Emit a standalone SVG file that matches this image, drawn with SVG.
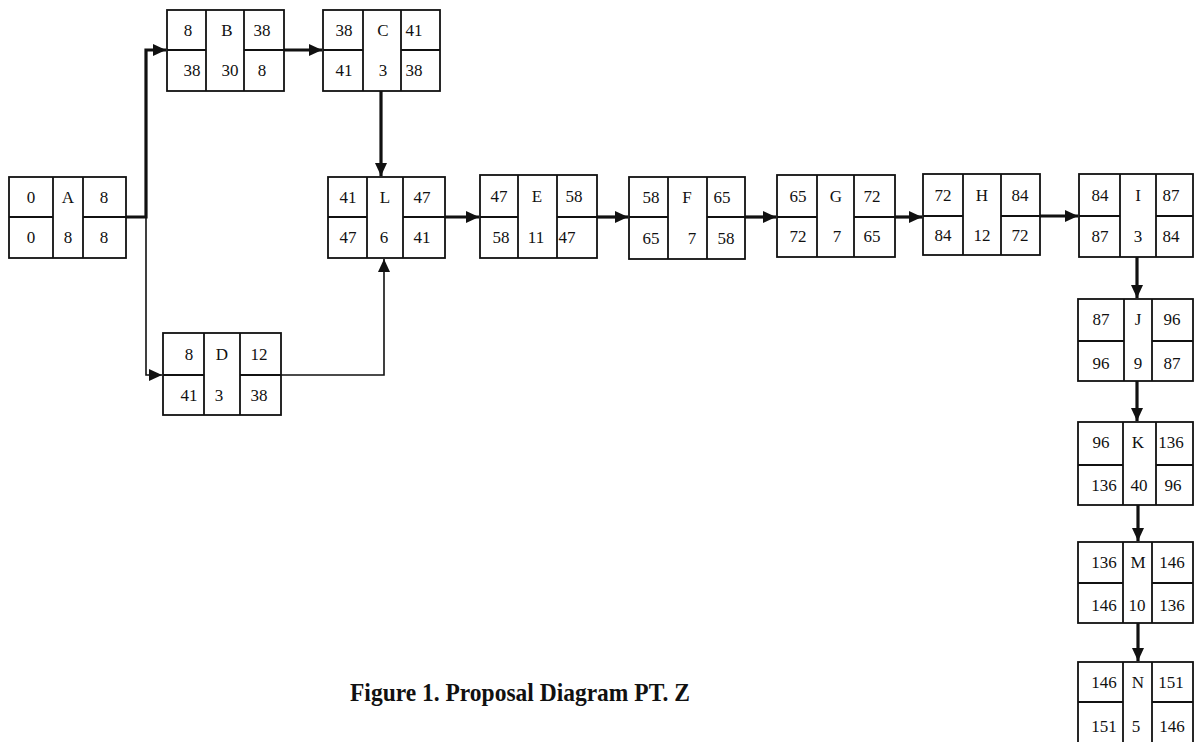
<svg xmlns="http://www.w3.org/2000/svg" width="1194" height="742" viewBox="0 0 1194 742">
<style>
.box{fill:#fff;stroke:#111;stroke-width:1.8}
.ln{stroke:#111;stroke-width:1.8;fill:none}
.t{font-family:"Liberation Serif","Times New Roman",serif;font-size:17px;fill:#111;text-anchor:middle}
.thick{stroke:#111;stroke-width:3.2;fill:none}
.thin{stroke:#111;stroke-width:1.6;fill:none}
.title{font-family:"Liberation Serif","Times New Roman",serif;font-size:25px;font-weight:bold;fill:#111;text-anchor:middle}
</style>
<defs>
<marker id="ah" markerUnits="userSpaceOnUse" markerWidth="14" markerHeight="12" refX="13" refY="6" orient="auto">
<path d="M0,0 L13,6 L0,12 Z" fill="#111"/>
</marker>
</defs>
<rect width="1194" height="742" fill="#fff"/>

<g id="connectors">
<path class="thick" d="M126,217 H146 V50 H166" marker-end="url(#ah)"/>
<path class="thin" d="M146,217 V375 H162" marker-end="url(#ah)"/>
<path class="thick" d="M284,50 H322" marker-end="url(#ah)"/>
<path class="thick" d="M381,91 V176" marker-end="url(#ah)"/>
<path class="thin" d="M281,375 H384 V259" marker-end="url(#ah)"/>
<path class="thick" d="M445,217 H479" marker-end="url(#ah)"/>
<path class="thick" d="M597,217 H628" marker-end="url(#ah)"/>
<path class="thick" d="M745,217 H776" marker-end="url(#ah)"/>
<path class="thick" d="M895,217 H922" marker-end="url(#ah)"/>
<path class="thick" d="M1040,216 H1078" marker-end="url(#ah)"/>
<path class="thick" d="M1137,257 V298" marker-end="url(#ah)"/>
<path class="thick" d="M1137,381 V421" marker-end="url(#ah)"/>
<path class="thick" d="M1138,505 V541" marker-end="url(#ah)"/>
<path class="thick" d="M1138,623 V661" marker-end="url(#ah)"/>
</g>

<g id="node-A">
<rect class="box" x="9" y="177" width="117" height="81"/>
<path class="ln" d="M53,177 V258 M83,177 V258 M9,217 H53 M83,217 H126"/>
<text class="t" x="31" y="203">0</text><text class="t" x="68" y="203">A</text><text class="t" x="104" y="203">8</text>
<text class="t" x="31" y="243">0</text><text class="t" x="68" y="243">8</text><text class="t" x="104" y="243">8</text>
</g>

<g id="node-B">
<rect class="box" x="167" y="10" width="117" height="81"/>
<path class="ln" d="M206,10 V91 M244,10 V91 M167,50 H206 M244,50 H284"/>
<text class="t" x="188" y="36">8</text><text class="t" x="227" y="36">B</text><text class="t" x="262" y="36">38</text>
<text class="t" x="192" y="76">38</text><text class="t" x="230" y="76">30</text><text class="t" x="262" y="76">8</text>
</g>

<g id="node-C">
<rect class="box" x="323" y="10" width="117" height="81"/>
<path class="ln" d="M363,10 V91 M401,10 V91 M323,50 H363 M401,50 H440"/>
<text class="t" x="344" y="36">38</text><text class="t" x="383" y="36">C</text><text class="t" x="414" y="36">41</text>
<text class="t" x="344" y="76">41</text><text class="t" x="383" y="76">3</text><text class="t" x="414" y="76">38</text>
</g>

<g id="node-L">
<rect class="box" x="328" y="177" width="117" height="81"/>
<path class="ln" d="M367,177 V258 M403,177 V258 M328,217 H367 M403,217 H445"/>
<text class="t" x="348" y="203">41</text><text class="t" x="385" y="203">L</text><text class="t" x="422" y="203">47</text>
<text class="t" x="348" y="243">47</text><text class="t" x="384" y="243">6</text><text class="t" x="422" y="243">41</text>
</g>

<g id="node-D">
<rect class="box" x="163" y="333" width="118" height="82"/>
<path class="ln" d="M204,333 V415 M240,333 V415 M163,375 H204 M240,375 H281"/>
<text class="t" x="189" y="360">8</text><text class="t" x="222" y="360">D</text><text class="t" x="259" y="360">12</text>
<text class="t" x="189" y="401">41</text><text class="t" x="219" y="401">3</text><text class="t" x="259" y="401">38</text>
</g>

<g id="node-E">
<rect class="box" x="480" y="175" width="117" height="83"/>
<path class="ln" d="M518,175 V258 M557,175 V258 M480,217 H518 M557,217 H597"/>
<text class="t" x="499" y="202">47</text><text class="t" x="537" y="202">E</text><text class="t" x="574" y="202">58</text>
<text class="t" x="501" y="243">58</text><text class="t" x="536" y="243">11</text><text class="t" x="567" y="243">47</text>
</g>

<g id="node-F">
<rect class="box" x="629" y="177" width="116" height="82"/>
<path class="ln" d="M668,177 V259 M707,177 V259 M629,217 H668 M707,217 H745"/>
<text class="t" x="651" y="203">58</text><text class="t" x="687" y="203">F</text><text class="t" x="722" y="203">65</text>
<text class="t" x="651" y="244">65</text><text class="t" x="692" y="244">7</text><text class="t" x="726" y="244">58</text>
</g>

<g id="node-G">
<rect class="box" x="777" y="175" width="118" height="82"/>
<path class="ln" d="M817,175 V257 M854,175 V257 M777,217 H817 M854,217 H895"/>
<text class="t" x="798" y="202">65</text><text class="t" x="836" y="202">G</text><text class="t" x="872" y="202">72</text>
<text class="t" x="798" y="242">72</text><text class="t" x="837" y="242">7</text><text class="t" x="872" y="242">65</text>
</g>

<g id="node-H">
<rect class="box" x="923" y="174" width="117" height="81"/>
<path class="ln" d="M963,174 V255 M1001,174 V255 M923,216 H963 M1001,216 H1040"/>
<text class="t" x="943" y="201">72</text><text class="t" x="982" y="201">H</text><text class="t" x="1020" y="201">84</text>
<text class="t" x="943" y="241">84</text><text class="t" x="982" y="241">12</text><text class="t" x="1020" y="241">72</text>
</g>

<g id="node-I">
<rect class="box" x="1079" y="174" width="114" height="83"/>
<path class="ln" d="M1120,174 V257 M1156,174 V257 M1079,216 H1120 M1156,216 H1193"/>
<text class="t" x="1100" y="201">84</text><text class="t" x="1138" y="201">I</text><text class="t" x="1171" y="201">87</text>
<text class="t" x="1100" y="242">87</text><text class="t" x="1138" y="242">3</text><text class="t" x="1171" y="242">84</text>
</g>

<g id="node-J">
<rect class="box" x="1078" y="299" width="115" height="82"/>
<path class="ln" d="M1124,299 V381 M1152,299 V381 M1078,341 H1124 M1152,341 H1193"/>
<text class="t" x="1101" y="325">87</text><text class="t" x="1138" y="325">J</text><text class="t" x="1172" y="325">96</text>
<text class="t" x="1101" y="369">96</text><text class="t" x="1138" y="369">9</text><text class="t" x="1172" y="369">87</text>
</g>

<g id="node-K">
<rect class="box" x="1078" y="422" width="115" height="83"/>
<path class="ln" d="M1123,422 V505 M1156,422 V505 M1078,465 H1123 M1156,465 H1193"/>
<text class="t" x="1101" y="448">96</text><text class="t" x="1138" y="448">K</text><text class="t" x="1171" y="448">136</text>
<text class="t" x="1104" y="491">136</text><text class="t" x="1139" y="491">40</text><text class="t" x="1173" y="491">96</text>
</g>

<g id="node-M">
<rect class="box" x="1078" y="542" width="115" height="81"/>
<path class="ln" d="M1123,542 V623 M1152,542 V623 M1078,583 H1123 M1152,583 H1193"/>
<text class="t" x="1104" y="568">136</text><text class="t" x="1138" y="568">M</text><text class="t" x="1172" y="568">146</text>
<text class="t" x="1104" y="611">146</text><text class="t" x="1137" y="611">10</text><text class="t" x="1172" y="611">136</text>
</g>

<g id="node-N">
<rect class="box" x="1078" y="662" width="115" height="84"/>
<path class="ln" d="M1123,662 V746 M1152,662 V746 M1078,702 H1123 M1152,702 H1193"/>
<text class="t" x="1104" y="688">146</text><text class="t" x="1138" y="688">N</text><text class="t" x="1171" y="688">151</text>
<text class="t" x="1104" y="732">151</text><text class="t" x="1136" y="732">5</text><text class="t" x="1172" y="732">146</text>
</g>

<text class="title" x="520" y="701" textLength="340" lengthAdjust="spacingAndGlyphs">Figure 1. Proposal Diagram PT. Z</text>
</svg>
